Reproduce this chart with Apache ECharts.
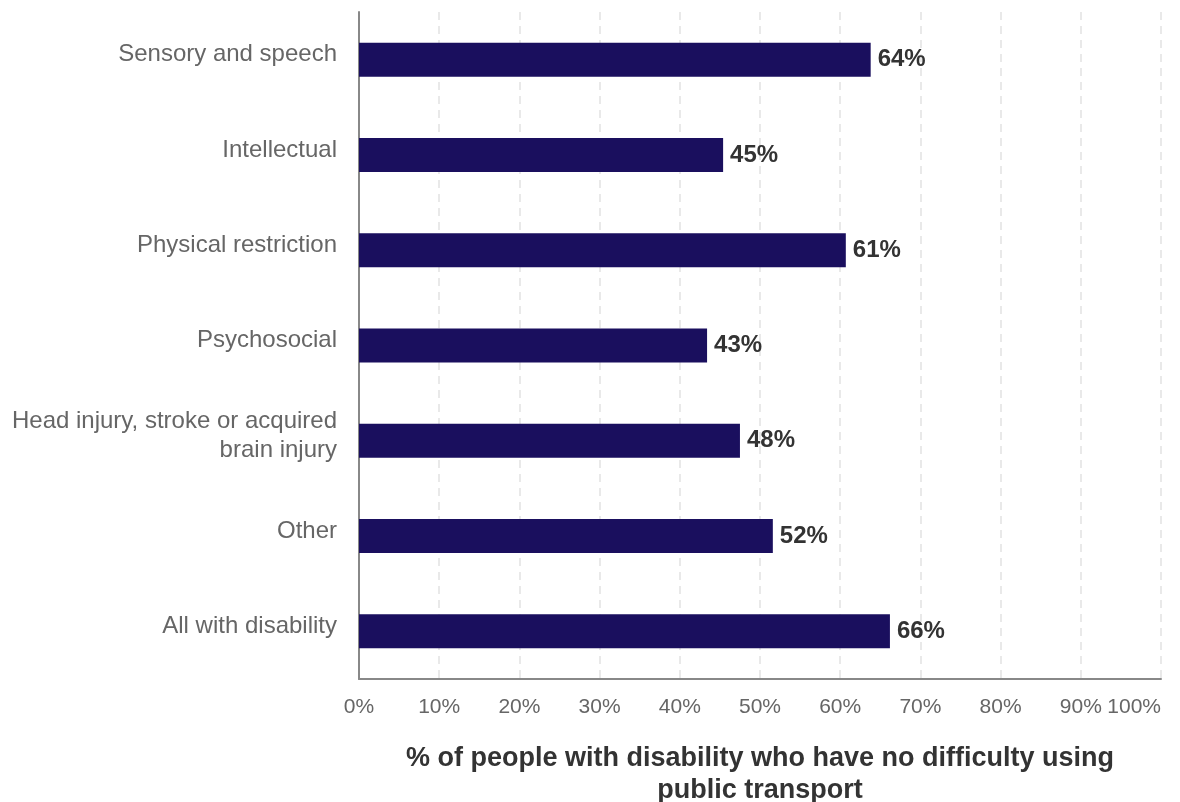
<!DOCTYPE html>
<html>
<head>
<meta charset="utf-8">
<script src="https://cdn.jsdelivr.net/npm/echarts@6/dist/echarts.min.js"></script>
<style>
  html, body { margin: 0; padding: 0; background: #fff; }
  #chart { width: 1180px; height: 802px; }
</style>
</head>
<body>
<div id="chart"></div>
<script>
const categories = [
  "Sensory and speech",
  "Intellectual",
  "Physical restriction",
  "Psychosocial",
  "Head injury, stroke or acquired\nbrain injury",
  "Other",
  "All with disability",
];
// share of people, %
const values = [63.8, 45.4, 60.7, 43.4, 47.5, 51.6, 66.2];
const tickValues = [0, 10, 20, 30, 40, 50, 60, 70, 80, 90, 100];

var myChart = echarts.init(document.getElementById("chart"));
var option = {
  animation: false,
  textStyle: { fontFamily: "Liberation Sans, Arial, sans-serif" },
  grid: {
    left: 359,
    right: 19,
    top: 12,
    bottom: 123,
    containLabel: false,
    outerBoundsMode: "none",
  },
  xAxis: {
    type: "value",
    min: tickValues[0],
    max: tickValues[tickValues.length - 1],
    interval: 10,
    name: "% of people with disability who have no difficulty using\npublic transport",
    nameLocation: "middle",
    nameGap: 64,
    nameTextStyle: {
      fontSize: 27,
      fontWeight: "bold",
      color: "#333",
      lineHeight: 32,
    },
    axisLine: { show: true, lineStyle: { color: "#888", width: 2 } },
    axisTick: { show: false },
    axisLabel: {
      fontSize: 21,
      color: "#666",
      margin: 18,
      alignMaxLabel: "right",
      formatter: "{value}%",
    },
    splitLine: {
      show: true,
      lineStyle: { color: "#e2e2e2", type: [8, 6], width: 1.5 },
    },
  },
  yAxis: {
    type: "category",
    inverse: true,
    data: categories,
    axisLine: { show: true, lineStyle: { color: "#888", width: 2 } },
    axisTick: { show: false },
    axisLabel: {
      margin: 22,
      align: "right",
      // extra short empty line below lifts the label a little, like the original
      formatter: function (v) {
        return v.split("\n").map(function (l) {
          return "{n|" + l + "}";
        }).join("\n") + "\n{gap| }";
      },
      rich: {
        n: { fontSize: 24, color: "#666", lineHeight: 29, align: "right" },
        gap: { fontSize: 8, lineHeight: 10, align: "right" },
      },
    },
  },
  series: [
    {
      type: "bar",
      data: values,
      barWidth: 34,
      itemStyle: { color: "#1a0f5e" },
      label: {
        show: true,
        position: "right",
        distance: 7,
        fontSize: 24,
        fontWeight: "bold",
        color: "#333",
        formatter: function (p) {
          return Math.round(p.value) + "%";
        },
      },
    },
  ],
};
option && myChart.setOption(option);
</script>
</body>
</html>
